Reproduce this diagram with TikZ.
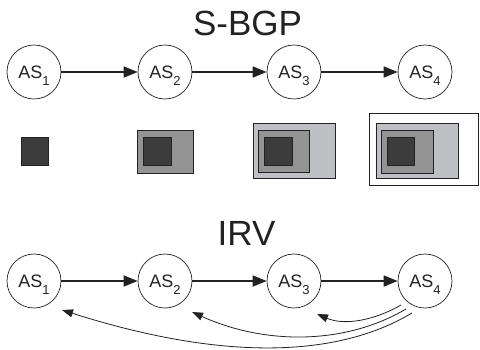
\documentclass[tikz,border=0pt]{standalone}
\usepackage{fontspec}
\setmainfont{Liberation Sans}
\usetikzlibrary{arrows.meta}
\definecolor{ink}{HTML}{222222}
\definecolor{darkfill}{HTML}{3C3C3C}
\definecolor{midfill}{HTML}{939393}
\definecolor{lightfill}{HTML}{BFC0C4}
\newcommand{\asl}[1]{AS\raisebox{-7pt}[0pt][0pt]{\fontsize{13}{13}\selectfont #1}}
\tikzset{
  asnode/.style={circle, draw=ink, line width=0.7pt, minimum size=54pt, inner sep=0pt,
    text=ink, font=\fontsize{18}{18}\selectfont},
  title/.style={anchor=base, text=ink, inner sep=0pt, font=\fontsize{35}{40}\selectfont},
  flow/.style={draw=ink, line width=1.7pt, -{Triangle[length=14pt,width=11pt]}},
  back/.style={draw=ink, line width=0.8pt, -{Triangle[length=11pt,width=8pt]}},
  boxline/.style={draw=ink, line width=1pt}
}
\begin{document}
\begin{tikzpicture}[x=1pt,y=-1pt]
\useasboundingbox (0,0) rectangle (480,349);
% titles
\node[title] (t1) at (247.5,35) {S-BGP};
\node[title] (t2) at (246.5,245) {IRV};
% S-BGP row
\node[asnode] (a1) at (34,72) {\asl{1}};
\node[asnode] (a2) at (165,72) {\asl{2}};
\node[asnode] (a3) at (294,72) {\asl{3}};
\node[asnode] (a4) at (425,72) {\asl{4}};
\draw[flow] (a1) -- (a2);
\draw[flow] (a2) -- (a3);
\draw[flow] (a3) -- (a4);
% nested boxes
\draw[boxline, fill=darkfill] (21,137) rectangle (48,165);
\draw[boxline, fill=midfill] (137,130) rectangle (193,173);
\draw[boxline, fill=darkfill] (143,137) rectangle (171,165);
\draw[boxline, fill=lightfill] (253,123) rectangle (335,178);
\draw[boxline, fill=midfill] (258,130) rectangle (309,172);
\draw[boxline, fill=darkfill] (264,137) rectangle (292,165);
\draw[boxline, fill=white] (369,113) rectangle (478.5,185);
\draw[boxline, fill=lightfill] (376,123) rectangle (458,178);
\draw[boxline, fill=midfill] (381,130) rectangle (433,173);
\draw[boxline, fill=darkfill] (387,137) rectangle (414,165);
% IRV row
\node[asnode] (b1) at (34,281) {\asl{1}};
\node[asnode] (b2) at (165,281) {\asl{2}};
\node[asnode] (b3) at (294,281) {\asl{3}};
\node[asnode] (b4) at (425,281) {\asl{4}};
\draw[flow] (b1) -- (b2);
\draw[flow] (b2) -- (b3);
\draw[flow] (b3) -- (b4);
\coordinate (s3) at (401,305);
\coordinate (s2) at (406,309);
\coordinate (s1) at (412,313);
\coordinate (e3) at (317,314);
\coordinate (e2) at (192,312);
\coordinate (e1) at (62,310);
\draw[back] (s3) .. controls (375,320) and (345,326) .. (e3);
\draw[back] (s2) .. controls (345,345) and (265,345) .. (e2);
\draw[back] (s1) .. controls (330,362) and (210,357) .. (e1);
\end{tikzpicture}
\end{document}
